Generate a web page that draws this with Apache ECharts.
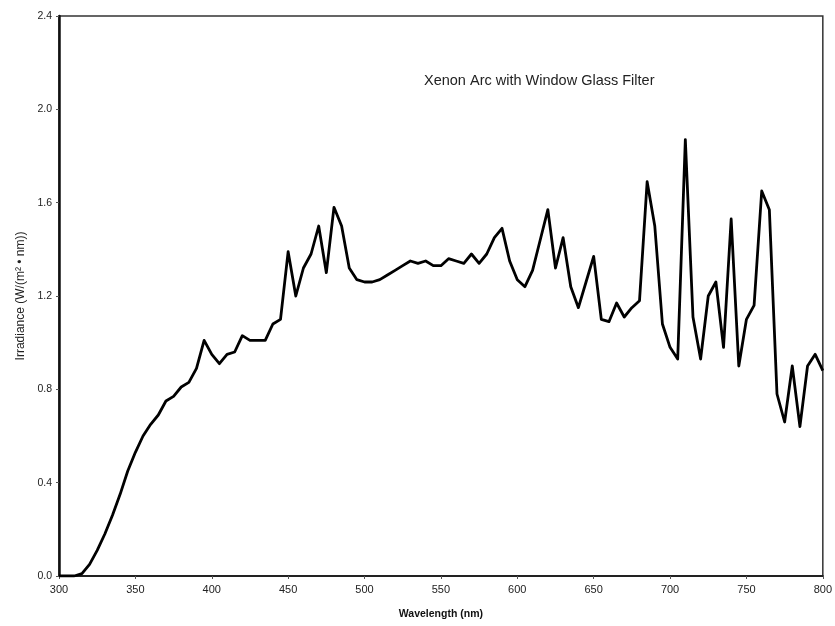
<!DOCTYPE html>
<html><head><meta charset="utf-8">
<script src="https://cdn.jsdelivr.net/npm/echarts@6/dist/echarts.min.js"></script>
<style>html,body{margin:0;padding:0;background:#fff}#c{width:835px;height:626px}</style>
</head><body><div id="c"></div>
<script>
const wavelengths = [300,305,310,315,320,325,330,335,340,345,350,355,360,365,370,375,380,385,390,395,400,405,410,415,420,425,430,435,440,445,450,455,460,465,470,475,480,485,490,495,500,505,510,515,520,525,530,535,540,545,550,555,560,565,570,575,580,585,590,595,600,605,610,615,620,625,630,635,640,645,650,655,660,665,670,675,680,685,690,695,700,705,710,715,720,725,730,735,740,745,750,755,760,765,770,775,780,785,790,795,800];
const irradiance = [0,0,0,0.01,0.05,0.11,0.18,0.26,0.35,0.45,0.53,0.60,0.65,0.69,0.75,0.77,0.81,0.83,0.89,1.01,0.95,0.91,0.95,0.96,1.03,1.01,1.01,1.01,1.08,1.10,1.39,1.20,1.32,1.38,1.50,1.30,1.58,1.50,1.32,1.27,1.26,1.26,1.27,1.29,1.31,1.33,1.35,1.34,1.35,1.33,1.33,1.36,1.35,1.34,1.38,1.34,1.38,1.45,1.49,1.35,1.27,1.24,1.31,1.44,1.57,1.32,1.45,1.24,1.15,1.26,1.37,1.10,1.09,1.17,1.11,1.15,1.18,1.69,1.50,1.08,0.98,0.93,1.87,1.11,0.93,1.20,1.26,0.98,1.53,0.90,1.10,1.16,1.65,1.57,0.78,0.66,0.90,0.64,0.90,0.95,0.88];
const yTicks = [0,0.4,0.8,1.2,1.6,2.0,2.4];
const xTicks = [300,350,400,450,500,550,600,650,700,750,800];
const chartTitle = 'Xenon Arc with Window Glass Filter';
const xName = 'Wavelength (nm)';
const yName = 'Irradiance (W/(m² • nm))';

const chart = echarts.init(document.getElementById('c'), null, {renderer:'canvas'});
chart.setOption({
  backgroundColor:'#fff',
  animation:false,
  title:{text:chartTitle,left:419,top:68,textStyle:{fontFamily:'Liberation Sans',fontSize:14.5,fontWeight:'normal',color:'#222'}},
  grid:{left:59,right:11,top:16,bottom:50,show:true,borderColor:'#333',borderWidth:1.5},
  xAxis:{type:'value',min:300,max:800,interval:50,
    name:xName,nameLocation:'middle',nameGap:33,
    nameTextStyle:{fontFamily:'Liberation Sans',fontSize:10.5,fontWeight:'bold',color:'#111'},
    axisLine:{lineStyle:{color:'#222',width:2}},
    axisTick:{show:true,length:3,lineStyle:{color:'#555'}},
    axisLabel:{fontFamily:'Liberation Sans',fontSize:11,color:'#222',margin:8,formatter:v=>xTicks.includes(v)?String(v):''},
    splitLine:{show:false}},
  yAxis:{type:'value',min:0,max:2.4,interval:0.4,
    name:yName,nameLocation:'middle',nameGap:28,
    nameTextStyle:{fontFamily:'Liberation Sans',fontSize:12,color:'#222'},
    axisLine:{show:true,lineStyle:{color:'#111',width:2.5}},
    axisTick:{show:true,length:3,lineStyle:{color:'#555'}},
    axisLabel:{fontFamily:'Liberation Sans',fontSize:10.5,color:'#222',margin:7,formatter:v=>{const t=yTicks.find(k=>Math.abs(k-v)<1e-6);return t===undefined?'':t.toFixed(1);}},
    splitLine:{show:false}},
  series:[{type:'line',data:wavelengths.map((w,i)=>[w,irradiance[i]]),showSymbol:false,symbol:'none',
    lineStyle:{color:'#000',width:2.8,join:'round'},smooth:false}]
});
</script></body></html>
